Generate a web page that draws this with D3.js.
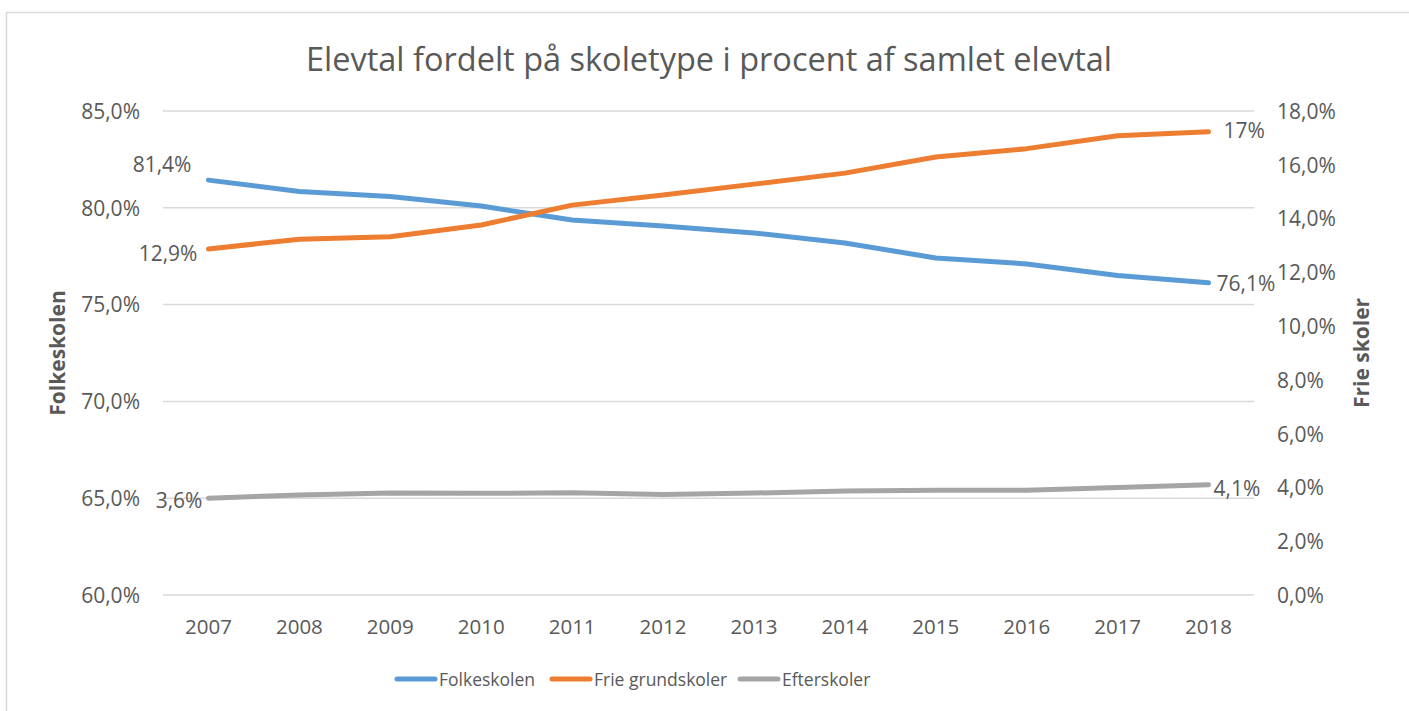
<!DOCTYPE html>
<html><head><meta charset="utf-8">
<script src="https://cdn.jsdelivr.net/npm/d3@7"></script>
<style>body{margin:0;background:#fff}svg{display:block}text{font-family:"Open Sans",sans-serif;fill:#595959}</style>
</head><body><svg id="c" width="1409" height="711"></svg>
<script>
const years = ["2007","2008","2009","2010","2011","2012","2013","2014","2015","2016","2017","2018"];
const folkeskolen = [81.43,80.84,80.58,80.09,79.37,79.06,78.70,78.18,77.41,77.10,76.50,76.13];
const frieGrundskoler = [12.87,13.23,13.32,13.76,14.50,14.88,15.28,15.69,16.29,16.60,17.08,17.23];
const efterskoler = [3.60,3.72,3.79,3.78,3.80,3.74,3.79,3.87,3.90,3.90,4.00,4.10];
const leftTicks = [60,65,70,75,80,85];
const rightTicks = [0,2,4,6,8,10,12,14,16,18];
const seriesNames = ["Folkeskolen","Frie grundskoler","Efterskoler"];
const colors = ["#5B9BD5","#ED7D31","#A5A5A5"];
const title = "Elevtal fordelt på skoletype i procent af samlet elevtal";

const svg = d3.select("#c");
const L = 163, R = 1254, T = 111, B = 595;
const x = d3.scaleBand().domain(years).range([L, R]).padding(0);
const yL = d3.scaleLinear().domain([60,85]).range([B, T]);
const yR = d3.scaleLinear().domain([0,18]).range([B, T]);
const fmt = v => d3.format(".1f")(v).replace(".", ",") + "%";

// border
svg.append("path").attr("d","M6.5,711 V12.5 H1409").attr("fill","none").attr("stroke","#d9d9d9").attr("stroke-width",1.5);

// title
svg.append("text").attr("x",709).attr("y",71).attr("text-anchor","middle").style("font-size","32.5px").text(title);

// gridlines
svg.append("g").selectAll("line").data(leftTicks).join("line")
  .attr("x1",L).attr("x2",R).attr("y1",d=>yL(d)).attr("y2",d=>yL(d))
  .attr("stroke","#d9d9d9").attr("stroke-width",1.5);

// left axis
const gL = svg.append("g").attr("transform",`translate(${L},0)`)
  .call(d3.axisLeft(yL).tickValues(leftTicks).tickFormat(fmt).tickSize(0).tickPadding(23));
gL.select(".domain").remove();
gL.selectAll("text").style("font-size","21px").attr("fill","#595959").attr("dy","0.35em");

// right axis
const gR = svg.append("g").attr("transform",`translate(${R},0)`)
  .call(d3.axisRight(yR).tickValues(rightTicks).tickFormat(fmt).tickSize(0).tickPadding(23));
gR.select(".domain").remove();
gR.selectAll("text").style("font-size","21px").attr("fill","#595959").attr("dy","0.35em");

// x axis
const gX = svg.append("g").attr("transform",`translate(0,${B})`)
  .call(d3.axisBottom(x).tickSize(0).tickPadding(24));
gX.select(".domain").remove();
gX.selectAll("text").style("font-size","20.5px").attr("fill","#595959");

// axis titles
svg.append("text").attr("transform","translate(65,353) rotate(-90)").attr("text-anchor","middle")
  .style("font-size","21px").style("font-weight","bold").text("Folkeskolen");
svg.append("text").attr("transform","translate(1369,353) rotate(-90)").attr("text-anchor","middle")
  .style("font-size","21px").style("font-weight","bold").text("Frie skoler");

// lines
const cx = d => x(d) + x.bandwidth()/2;
const data = [
  {vals: folkeskolen, y: yL},
  {vals: frieGrundskoler, y: yR},
  {vals: efterskoler, y: yR}
];
data.forEach((s,i) => {
  const line = d3.line().x((v,j)=>cx(years[j])).y(v=>s.y(v));
  svg.append("path").attr("d", line(s.vals)).attr("fill","none")
    .attr("stroke",colors[i]).attr("stroke-width",5).attr("stroke-linecap","round").attr("stroke-linejoin","round");
});

// data labels
const last = years.length-1;
const lab = (xx,yy,anchor,t) => svg.append("text").attr("x",xx).attr("y",yy).attr("text-anchor",anchor).style("font-size","21px").attr("fill","#404040").text(t);
lab(cx(years[0])-17, yL(folkeskolen[0])-8, "end", fmt(folkeskolen[0]));
lab(cx(years[0])-11, yR(frieGrundskoler[0])+12, "end", fmt(frieGrundskoler[0]));
lab(cx(years[0])-6, yR(efterskoler[0])+10, "end", fmt(efterskoler[0]));
lab(cx(years[last])+8, yL(folkeskolen[last])+8, "start", fmt(folkeskolen[last]));
lab(cx(years[last])+15, yR(frieGrundskoler[last])+6, "start", d3.format(".0f")(frieGrundskoler[last])+"%");
lab(cx(years[last])+5, yR(efterskoler[last])+11, "start", fmt(efterskoler[last]));

// legend
const legX = [395, 550, 738];
const lg = svg.append("g");
seriesNames.forEach((n,i) => {
  lg.append("line").attr("x1",legX[i]+2).attr("x2",legX[i]+40).attr("y1",679).attr("y2",679)
    .attr("stroke",colors[i]).attr("stroke-width",5).attr("stroke-linecap","round");
  lg.append("text").attr("x",legX[i]+44).attr("y",686).style("font-size","17.5px").text(n);
});
</script></body></html>
